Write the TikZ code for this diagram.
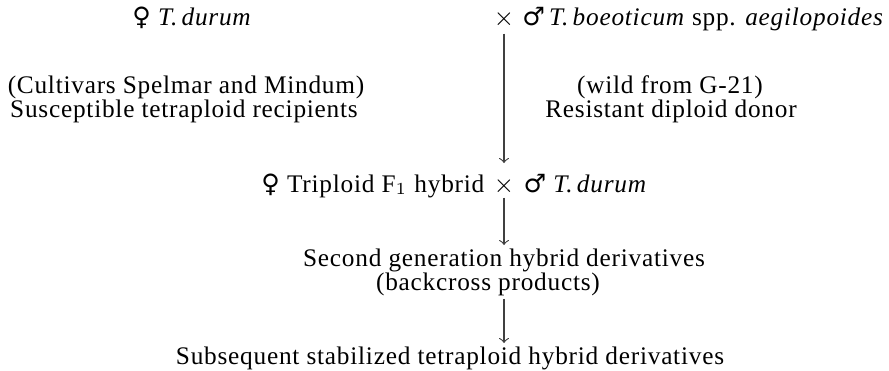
\documentclass[tikz,border=0pt]{standalone}
\usepackage{fontspec}
\setmainfont[LetterSpace=3]{Liberation Serif}
\newfontfamily\sexfont{DejaVu Sans}
\usetikzlibrary{positioning}
\newcommand{\fem}{{\sexfont ♀}}
\newcommand{\mal}{{\sexfont ♂}}
\tikzset{
  txt/.style={inner sep=0pt, anchor=base, font=\fontsize{9}{11}\selectfont},
  ln/.style={->, line width=0.4pt, black!75, shorten <=1pt, shorten >=1pt}
}

\begin{document}
\begin{tikzpicture}[x=0.0125cm, y=-0.0125cm]
	\useasboundingbox (0,0) rectangle (889,370);

	% parents of the first cross
	\node[txt] (cross1) at (504,25) {$\times$};
	\node[txt] (female1) at (192,25) {\fem\ \textit{T.\,durum}};
	\node[txt, anchor=base west, xshift=2.5pt] (male1) at (cross1.base east) {\mal\,\textit{T.\,boeoticum} spp. \textit{aegilopoides}};

	\node[txt] (recip1) at (186,93) {(Cultivars Spelmar and Mindum)};
	\node[txt] (recip2) at (184,117) {Susceptible tetraploid recipients};
	\node[txt] (donor1) at (670,93) {(wild from G-21)};
	\node[txt] (donor2) at (671,117) {Resistant diploid donor};

	% backcross
	\node[txt] (cross2) at (504,192) {$\times$};
	\node[txt, anchor=base east, xshift=-3pt] (female2) at (cross2.base west) {\fem\ Triploid F$_1$ hybrid};
	\node[txt, anchor=base west, xshift=3pt] (male2) at (cross2.base east) {\mal\ \textit{T.\,durum}};

	% derivatives
	\node[txt] (gen1) at (504,266) {Second generation hybrid derivatives};
	\node[txt] (gen2) at (488,290) {(backcross products)};
	\node[txt] (final) at (450,364) {Subsequent stabilized tetraploid hybrid derivatives};

	\draw[ln, shorten <=2pt, shorten >=3.5pt] (cross1) -- (female2.north -| cross2);
	\draw[ln] (cross2) -- (cross2 |- gen1.north);
	\draw[ln] (gen2.south -| cross2) -- (final.north -| cross2);
\end{tikzpicture}
\end{document}
